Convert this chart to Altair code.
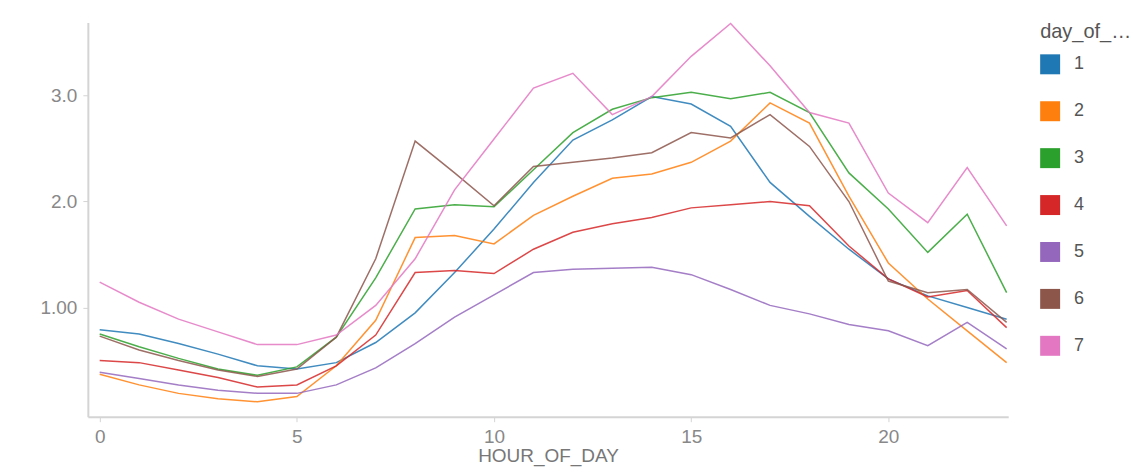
import altair as alt
import pandas as pd

hours = list(range(24))
day1 = [0.79, 0.75, 0.66, 0.56, 0.45, 0.42, 0.48, 0.67, 0.95, 1.33, 1.74, 2.18, 2.58, 2.77, 2.99, 2.92, 2.71, 2.18, 1.86, 1.55, 1.27, 1.11, 1.00, 0.89]
day2 = [0.37, 0.27, 0.19, 0.14, 0.11, 0.16, 0.45, 0.88, 1.66, 1.68, 1.60, 1.87, 2.05, 2.22, 2.26, 2.37, 2.57, 2.93, 2.74, 2.05, 1.42, 1.08, 0.78, 0.48]
day3 = [0.75, 0.63, 0.52, 0.42, 0.36, 0.44, 0.72, 1.28, 1.93, 1.97, 1.95, 2.30, 2.65, 2.87, 2.98, 3.03, 2.97, 3.03, 2.84, 2.27, 1.93, 1.52, 1.88, 1.14]
day4 = [0.50, 0.48, 0.41, 0.34, 0.25, 0.27, 0.45, 0.74, 1.33, 1.35, 1.32, 1.55, 1.71, 1.79, 1.85, 1.94, 1.97, 2.00, 1.96, 1.58, 1.27, 1.10, 1.16, 0.81]
day5 = [0.39, 0.33, 0.27, 0.22, 0.19, 0.19, 0.27, 0.43, 0.66, 0.91, 1.12, 1.33, 1.36, 1.37, 1.38, 1.31, 1.17, 1.02, 0.94, 0.84, 0.78, 0.64, 0.86, 0.61]
day6 = [0.73, 0.60, 0.50, 0.41, 0.35, 0.42, 0.72, 1.46, 2.57, 2.27, 1.96, 2.33, 2.37, 2.41, 2.46, 2.65, 2.60, 2.82, 2.52, 2.00, 1.25, 1.14, 1.17, 0.86]
day7 = [1.24, 1.05, 0.89, 0.77, 0.65, 0.65, 0.74, 1.02, 1.46, 2.11, 2.59, 3.07, 3.21, 2.82, 2.99, 3.37, 3.68, 3.28, 2.84, 2.74, 2.08, 1.80, 2.32, 1.77]

series = {1: day1, 2: day2, 3: day3, 4: day4, 5: day5, 6: day6, 7: day7}
rows = []
for d, vals in series.items():
    for h, v in zip(hours, vals):
        rows.append({"HOUR_OF_DAY": h, "value": v, "day_of_week": d})
df = pd.DataFrame(rows)

colors = ["#1f77b4", "#ff7f0e", "#2ca02c", "#d62728", "#9467bd", "#8c564b", "#e377c2"]

chart = alt.Chart(df).mark_line(strokeWidth=1.5, opacity=0.85).encode(
    x=alt.X("HOUR_OF_DAY:Q",
            scale=alt.Scale(domain=[-0.3, 23.04], nice=False, zero=False),
            axis=alt.Axis(values=[0, 5, 10, 15, 20], title="HOUR_OF_DAY",
                          labelFontSize=19, titleFontSize=19, titleFontWeight="normal",
                          labelColor="#888888", titleColor="#777777",
                          domainColor="#d4d4d4", domainWidth=2, tickColor="#d4d4d4",
                          tickSize=5, labelPadding=6, titlePadding=0, grid=False)),
    y=alt.Y("value:Q",
            scale=alt.Scale(domain=[-0.03, 3.69], nice=False, zero=False),
            axis=alt.Axis(values=[1, 2, 3], title=None,
                          labelExpr="datum.value == 1 ? '1.00' : format(datum.value, '.1f')",
                          labelFontSize=19, labelColor="#888888",
                          domainColor="#d4d4d4", domainWidth=2, tickColor="#d4d4d4",
                          tickSize=5, labelPadding=6, minExtent=75, grid=False)),
    color=alt.Color("day_of_week:N",
                    scale=alt.Scale(domain=[1, 2, 3, 4, 5, 6, 7], range=colors),
                    legend=alt.Legend(title="day_of_week", titleFontSize=20, titleFontWeight="normal",
                                      titleColor="#555555", labelFontSize=18, labelColor="#555555",
                                      symbolType="square", symbolSize=4, symbolStrokeWidth=18,
                                      symbolOpacity=1, rowPadding=-52, titlePadding=12,
                                      labelOffset=14, offset=30, titleLimit=92))
).properties(
    width=922, height=395,
    padding={"left": 5, "top": 12, "right": 0, "bottom": 6}
).configure(font="Liberation Sans").configure_view(stroke=None)

chart.save("out.html", embed_options={"renderer": "svg", "actions": False})
